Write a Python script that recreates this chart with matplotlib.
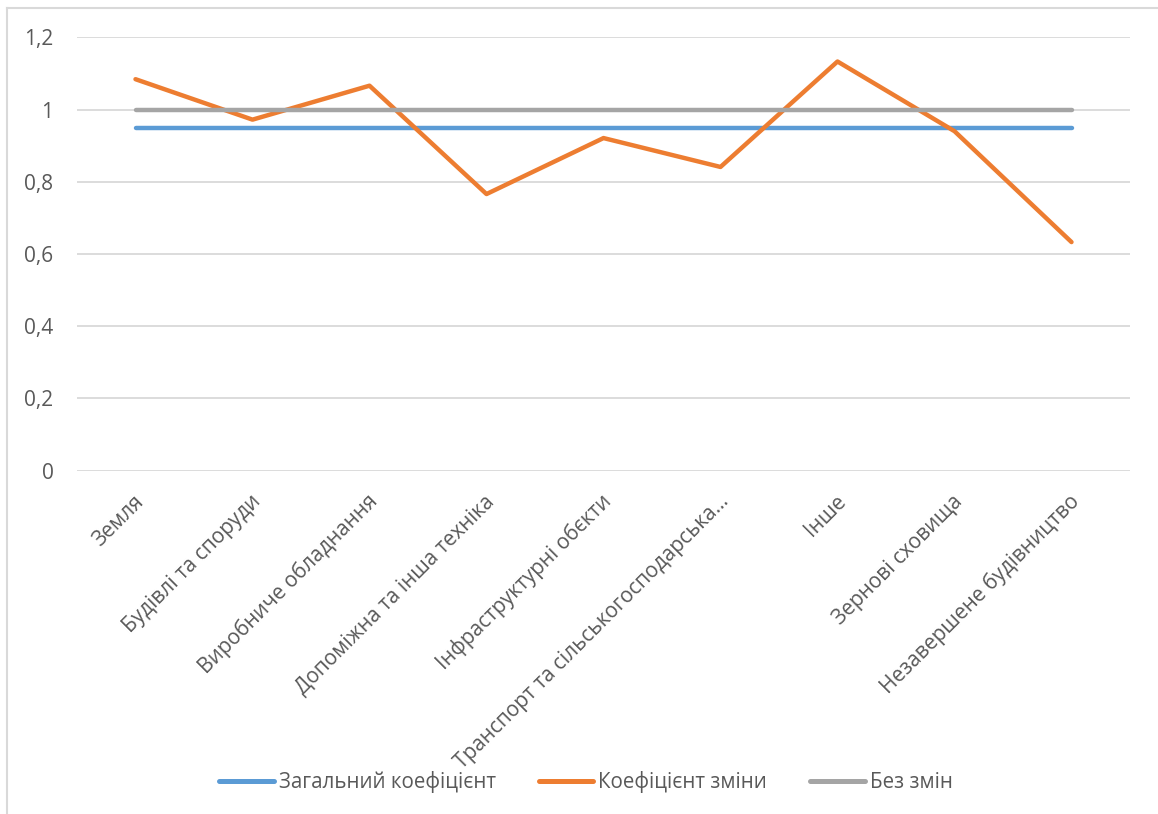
import matplotlib.pyplot as plt
from matplotlib.lines import Line2D
from matplotlib.ticker import FuncFormatter
from matplotlib.transforms import ScaledTranslation

plt.rcParams['font.family'] = ['Open Sans', 'DejaVu Sans']

# категорії активів
categories = ['Земля', 'Будівлі та споруди', 'Виробниче обладнання',
              'Допоміжна та інша техніка', 'Інфраструктурні обєкти',
              'Транспорт та сільськогосподарська…', 'Інше',
              'Зернові сховища', 'Незавершене будівництво']

total_coef = [0.948] * 9
change_coef = [1.084, 0.972, 1.066, 0.766, 0.921, 0.841, 1.133, 0.94, 0.633]
no_change = [1.0] * 9

series_names = ['Загальний коефіцієнт', 'Коефіцієнт зміни', 'Без змін']
colors = ['#5b9bd5', '#ed7d31', '#a5a5a5']
text_col = '#595959'

fig = plt.figure(figsize=(11.58, 8.14), dpi=100)
ax = fig.add_axes([77 / 1158, 1 - 470.7 / 814, (1130 - 77) / 1158, (470.7 - 37.3) / 814])

x = list(range(len(categories)))
for vals, c in zip([total_coef, change_coef, no_change], colors):
    ax.plot(x, vals, color=c, lw=3.2, solid_capstyle='round', solid_joinstyle='round')

ax.set_xlim(-0.5, len(categories) - 0.5)
ax.set_ylim(0, 1.2)
ax.set_yticks([0, 0.2, 0.4, 0.6, 0.8, 1.0, 1.2])
ax.yaxis.set_major_formatter(FuncFormatter(lambda v, p: ('%g' % round(v, 1)).replace('.', ',')))
ax.grid(axis='y', color='#d9d9d9', lw=1.3)
ax.set_axisbelow(True)
for s in ax.spines.values():
    s.set_visible(False)
ax.tick_params(axis='y', length=0, pad=17, labelsize=15, labelcolor=text_col)
ax.tick_params(axis='x', length=0, pad=20, labelsize=15, labelcolor=text_col)
ax.set_xticks(x)
ax.set_xticklabels(categories, rotation=45, ha='right', va='center', rotation_mode='anchor')
shift = ScaledTranslation(5 / 100, 0, fig.dpi_scale_trans)
for lab in ax.get_xticklabels():
    lab.set_transform(lab.get_transform() + shift)

# рамка області діаграми
fig.add_artist(Line2D([7 / 1158, 7 / 1158], [0, 1 - 8 / 814], transform=fig.transFigure,
                      color='#d9d9d9', lw=1.5))
fig.add_artist(Line2D([7 / 1158, 1], [1 - 8 / 814, 1 - 8 / 814], transform=fig.transFigure,
                      color='#d9d9d9', lw=1.5))

handles = [Line2D([], [], color=c, lw=3.6, solid_capstyle='round') for c in colors]
leg = fig.legend(handles, series_names, loc='center', bbox_to_anchor=(586 / 1158, 1 - 782 / 814),
                 ncol=3, frameon=False, handlelength=2.65, handletextpad=0.25, columnspacing=2.1,
                 prop={'size': 14.8})
for t in leg.get_texts():
    t.set_color(text_col)

fig.savefig('out.png', dpi=100, facecolor='white')
